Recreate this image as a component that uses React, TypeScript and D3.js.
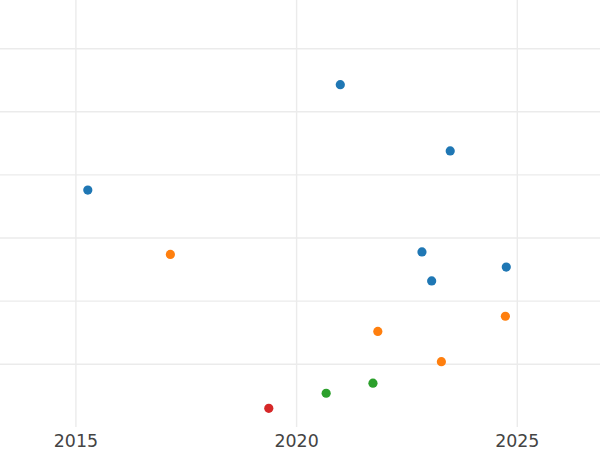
import React from "react";
import * as d3 from "d3";

const seriesNames = ["A", "B", "C", "D"];
const colors = ["#1f77b4", "#ff7f0e", "#2ca02c", "#d62728"];
const years = [
  [2015.27, 2020.99, 2023.48, 2022.84, 2023.06, 2024.75],
  [2017.14, 2024.73, 2021.84, 2023.28],
  [2020.67, 2021.73],
  [2019.37],
];
const values = [
  [2.76, 4.43, 3.38, 1.78, 1.32, 1.54],
  [1.74, 0.76, 0.52, 0.04],
  [-0.46, -0.3],
  [-0.7],
];
const xTicks = [2015, 2020, 2025];
const yTicks = [0, 1, 2, 3, 4, 5];

const W = 600;
const H = 450;

export default function App() {
  const x = d3.scaleLinear().domain([2015, 2025]).range([75.9, 517.3]);
  const y = d3.scaleLinear().domain([0, 5]).range([364.2, 48.7]);
  const plotBottom = 427;
  return (
    <svg
      width={W}
      height={H}
      style={{ position: "absolute", left: 0, top: 0, background: "#fff" }}
      fontFamily="DejaVu Sans"
    >
      <rect width={W} height={H} fill="#fff" />
      {yTicks.map((t) => (
        <line key={"y" + t} x1={0} x2={W} y1={y(t)} y2={y(t)} stroke="#ebebeb" strokeWidth={1.4} />
      ))}
      {xTicks.map((t) => (
        <line key={"x" + t} x1={x(t)} x2={x(t)} y1={0} y2={plotBottom} stroke="#ebebeb" strokeWidth={1.4} />
      ))}
      {seriesNames.map((s, i) =>
        years[i].map((yr, j) => (
          <circle key={s + j} cx={x(yr)} cy={y(values[i][j])} r={4.6} fill={colors[i]} />
        ))
      )}
      {xTicks.map((t) => (
        <text key={"l" + t} x={x(t)} y={446.5} textAnchor="middle" fontSize={17.4} fill="#444">
          {t}
        </text>
      ))}
    </svg>
  );
}
